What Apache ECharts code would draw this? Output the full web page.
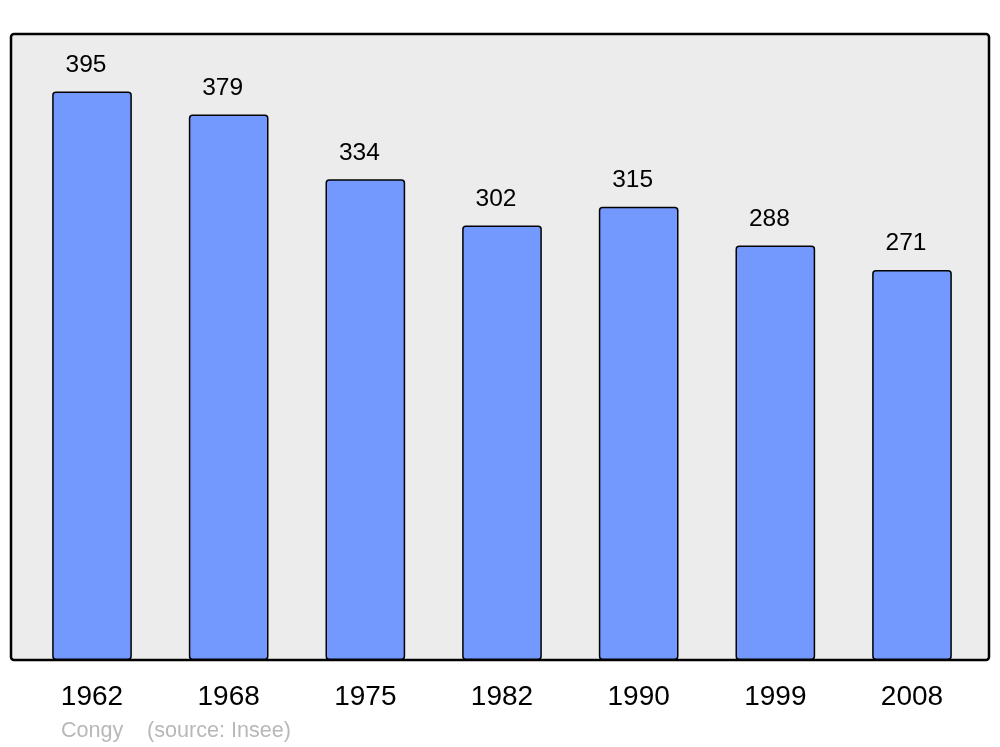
<!DOCTYPE html>
<html>
<head>
<meta charset="utf-8">
<script src="https://cdn.jsdelivr.net/npm/echarts@6/dist/echarts.min.js"></script>
<style>html,body{margin:0;padding:0;background:#fff}#c{width:1000px;height:747px}</style>
</head>
<body>
<div id="c"></div>
<script>
const years = ['1962', '1968', '1975', '1982', '1990', '1999', '2008'];
const population = [395, 379, 334, 302, 315, 288, 271];
const footerTitle = 'Congy';
const footerSource = '(source: Insee)';

const chart = echarts.init(document.getElementById('c'), null, {renderer: 'canvas'});
chart.setOption({
  animation: false,
  backgroundColor: '#ffffff',
  textStyle: {fontFamily: 'Liberation Sans, Arial, sans-serif'},
  graphic: [
    {type: 'rect', z: -10, shape: {x: 11, y: 34, width: 978, height: 626, r: 3},
     style: {fill: '#ececec', stroke: '#000', lineWidth: 2.5}},
    {type: 'text', left: 61, top: 720,
     style: {text: footerTitle, fill: '#b8b8b8', font: '21.6px "Liberation Sans", Arial, sans-serif'}},
    {type: 'text', left: 147, top: 720,
     style: {text: footerSource, fill: '#b8b8b8', font: '21.6px "Liberation Sans", Arial, sans-serif'}}
  ],
  grid: {left: 23.67, right: 19.67, top: 34, bottom: 87},
  xAxis: {
    type: 'category', data: years,
    axisLine: {show: false}, axisTick: {show: false},
    axisLabel: {fontSize: 28, color: '#000', margin: 23, fontFamily: 'Liberation Sans'}
  },
  yAxis: {type: 'value', min: 0, max: 435, show: false, splitLine: {show: false}},
  series: [{
    type: 'bar', data: population, barWidth: '58.3%',
    itemStyle: {color: '#7399ff', borderColor: '#000', borderWidth: 1.5, borderRadius: 3},
    label: {show: true, position: 'top', distance: 14, offset: [-6, 0], fontSize: 24.5, color: '#000', fontFamily: 'Liberation Sans'}
  }]
});
</script>
</body>
</html>
